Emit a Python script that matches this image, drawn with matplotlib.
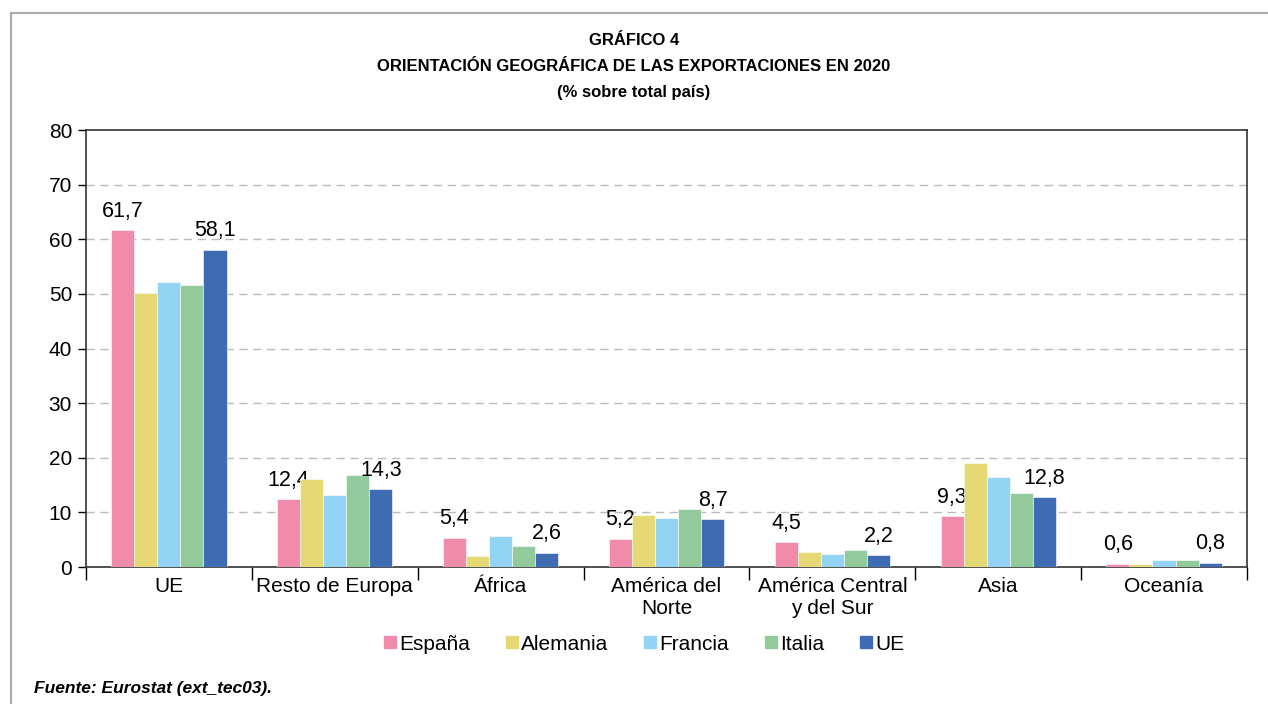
import numpy as np
import matplotlib.pyplot as plt
from matplotlib.lines import Line2D

plt.rcParams['font.family'] = ['Liberation Sans', 'DejaVu Sans']

regiones = ['UE', 'Resto de Europa', 'África', 'América del\nNorte',
            'América Central\ny del Sur', 'Asia', 'Oceanía']
paises = ['España', 'Alemania', 'Francia', 'Italia', 'UE']
espana = [61.7, 12.4, 5.4, 5.2, 4.5, 9.3, 0.6]
alemania = [50.2, 16.1, 2.0, 9.5, 2.7, 19.1, 0.6]
francia = [52.1, 13.2, 5.7, 9.0, 2.4, 16.5, 1.2]
italia = [51.7, 16.8, 3.8, 10.6, 3.1, 13.5, 1.2]
ue = [58.1, 14.3, 2.6, 8.7, 2.2, 12.8, 0.8]
colores = ['#F08CA9', '#E6D875', '#93D4F5', '#93CA9B', '#3F6BB3']

series = [espana, alemania, francia, italia, ue]


def plot_exportaciones():
    fig = plt.figure(figsize=(12.68, 7.04), dpi=100)
    ax = fig.add_axes([0.0678, 0.1946, 0.9156, 0.6207])

    x = np.arange(len(regiones))
    w = 0.139
    for i, (vals, col, nom) in enumerate(zip(series, colores, paises)):
        pos = x + (i - 2) * w
        ax.bar(pos, vals, w, color=col, label=nom, zorder=3,
               edgecolor='white', linewidth=0.4)
        if i in (0, 4):
            for px, v in zip(pos, vals):
                ax.annotate(f'{v:.1f}'.replace('.', ','), (px, v),
                            xytext=(0, 6), textcoords='offset points',
                            ha='center', va='bottom', fontsize=15.5)

    ax.set_xlim(-0.5, len(regiones) - 0.5)
    ax.set_ylim(0, 80)
    ax.set_yticks(range(0, 81, 10))
    ax.tick_params(axis='y', labelsize=15, length=6, width=1, pad=4)
    for yv in range(10, 80, 10):
        ax.axhline(yv, color='#BBBBBB', linestyle=(0, (6, 4)),
                   linewidth=1, zorder=1)

    ax.set_xticks(x)
    ax.set_xticklabels(regiones, fontsize=15, linespacing=1.25)
    ax.tick_params(axis='x', length=0, pad=7)
    ax.set_xticks(np.arange(-0.5, len(regiones)), minor=True)
    ax.tick_params(axis='x', which='minor', length=9, width=1)

    for s in ax.spines.values():
        s.set_color('#333333')
        s.set_linewidth(1.2)

    handles = [Line2D([], [], marker='s', linestyle='none', markersize=9,
                      markerfacecolor=c, markeredgecolor=c) for c in colores]
    fig.legend(handles, paises, loc='center', bbox_to_anchor=(0.508, 0.085),
               ncol=5, frameon=False, fontsize=15, handletextpad=0.15,
               columnspacing=1.7, handlelength=0.6)

    fig.text(0.5, 0.943, 'GRÁFICO 4', ha='center', va='center',
             fontsize=12, fontweight='bold')
    fig.text(0.5, 0.905, 'ORIENTACIÓN GEOGRÁFICA DE LAS EXPORTACIONES EN 2020',
             ha='center', va='center', fontsize=12, fontweight='bold')
    fig.text(0.5, 0.868, '(% sobre total país)', ha='center', va='center',
             fontsize=12, fontweight='bold')
    fig.text(0.027, 0.022, 'Fuente: Eurostat (ext_tec03).', ha='left',
             va='center', fontsize=12.5, fontweight='bold', style='italic')

    # marco exterior (solo arriba e izquierda)
    fig.add_artist(Line2D([0.0087, 1.0], [0.982, 0.982], color='#AAAAAA',
                          linewidth=1.5, transform=fig.transFigure))
    fig.add_artist(Line2D([0.0087, 0.0087], [0.0, 0.982], color='#AAAAAA',
                          linewidth=1.5, transform=fig.transFigure))

    fig.savefig('out.png', dpi=100)


if __name__ == '__main__':
    plot_exportaciones()
